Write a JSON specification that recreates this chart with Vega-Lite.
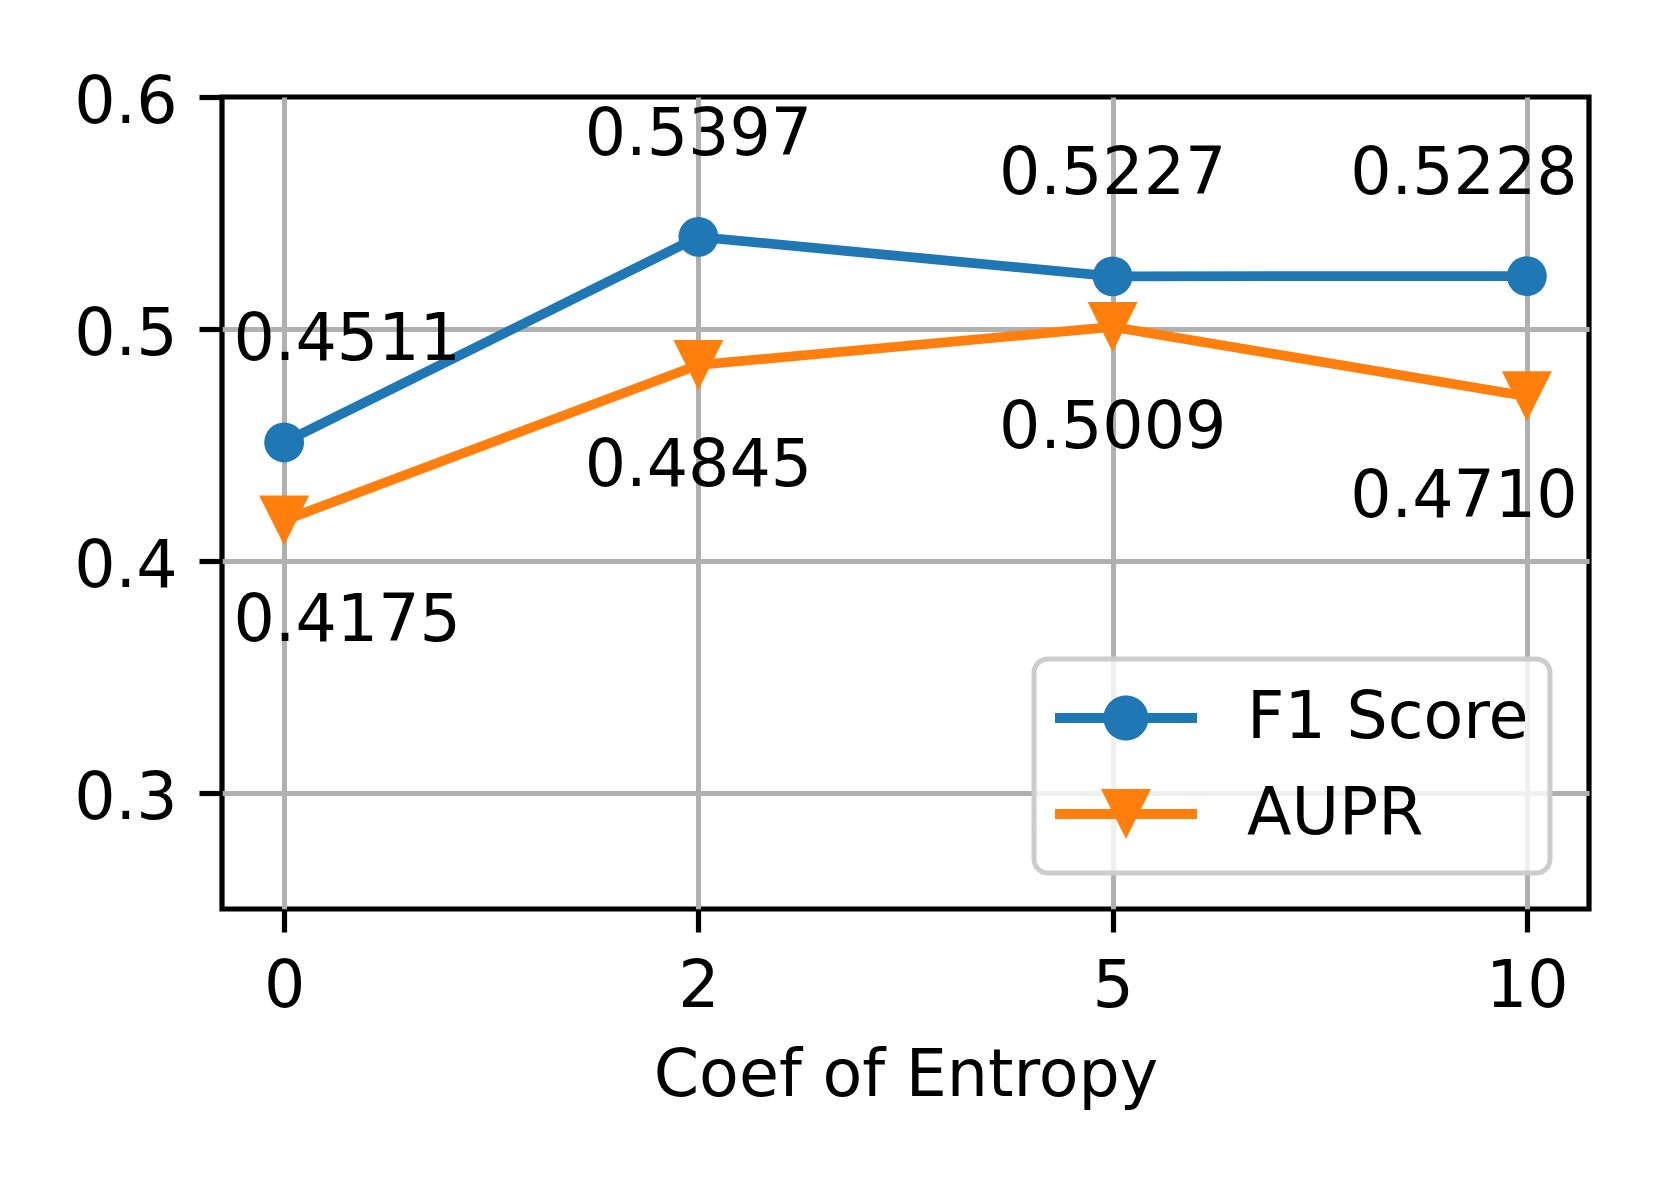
{
  "$schema": "https://vega.github.io/schema/vega-lite/v6.json",
  "width": 1367,
  "height": 812,
  "autosize": {"type": "none"},
  "padding": {"left": 222, "top": 97, "right": 72, "bottom": 277},
  "background": "white",
  "data": {
    "values": [
      {"series": "F1 Score", "x": 0, "value": 0.4511},
      {"series": "F1 Score", "x": 2, "value": 0.5397},
      {"series": "F1 Score", "x": 5, "value": 0.5227},
      {"series": "F1 Score", "x": 10, "value": 0.5228},
      {"series": "AUPR", "x": 0, "value": 0.4175},
      {"series": "AUPR", "x": 2, "value": 0.4845},
      {"series": "AUPR", "x": 5, "value": 0.5009},
      {"series": "AUPR", "x": 10, "value": 0.4710}
    ]
  },
  "encoding": {
    "x": {
      "field": "x", "type": "ordinal",
      "scale": {"type": "point", "padding": 0.15},
      "axis": {
        "title": "Coef of Entropy", "labelAngle": 0,
        "labelPadding": 23, "titlePadding": 25
      }
    },
    "y": {
      "field": "value", "type": "quantitative",
      "scale": {"domain": [0.25, 0.6], "nice": false, "zero": false},
      "axis": {
        "title": null, "values": [0.3, 0.4, 0.5, 0.6], "format": ".1f",
        "labelPadding": 22, "labelOffset": 5,
        "gridOpacity": {"condition": {"test": "datum.value > 0.59", "value": 0}, "value": 1}
      }
    }
  },
  "layer": [
    {
      "mark": {"type": "line", "strokeWidth": 9.75},
      "encoding": {
        "color": {
          "field": "series", "type": "nominal",
          "scale": {"domain": ["F1 Score", "AUPR"], "range": ["#1f77b4", "#ff7f0e"]},
          "legend": {
            "title": null,
            "orient": "none",
            "legendX": 812,
            "legendY": 562,
            "padding": 21,
            "clipHeight": 76,
            "rowPadding": 20,
            "labelOffset": 50,
            "labelFontSize": 65,
            "labelFont": "DejaVu Sans",
            "labelColor": "black",
            "labelLimit": 600,
            "symbolSize": 20164,
            "fillColor": "rgba(255,255,255,0.8)",
            "strokeColor": "#cccccc",
            "cornerRadius": 14,
            "encode": {
              "legend": {"update": {"strokeWidth": {"value": 5}}},
              "symbols": {
                "update": {
                  "shape": [
                    {"test": "datum.value === 'F1 Score'", "value": "M-1,-0.07 L1,-0.07 L1,0.07 L-1,0.07 Z M0.317,0 A0.317,0.317 0 1,1 -0.317,0 A0.317,0.317 0 1,1 0.317,0 Z"},
                    {"value": "M-1,-0.07 L1,-0.07 L1,0.07 L-1,0.07 Z M-0.352,-0.352 L0.352,-0.352 L0,0.352 Z"}
                  ],
                  "fill": [
                    {"test": "datum.value === 'F1 Score'", "value": "#1f77b4"},
                    {"value": "#ff7f0e"}
                  ],
                  "size": {"value": 20164},
                  "strokeWidth": {"value": 0},
                  "opacity": {"value": 1}
                }
              }
            }
          }
        },
        "detail": {"field": "series"}
      }
    },
    {
      "transform": [{"filter": "datum.series === 'F1 Score'"}],
      "mark": {"type": "point", "filled": true, "opacity": 1, "strokeWidth": 0, "shape": "circle", "size": 1590},
      "encoding": {
        "color": {
          "field": "series", "type": "nominal",
          "scale": {"domain": ["F1 Score", "AUPR"], "range": ["#1f77b4", "#ff7f0e"]}
        }
      }
    },
    {
      "transform": [{"filter": "datum.series === 'AUPR'"}],
      "mark": {"type": "point", "filled": true, "opacity": 1, "strokeWidth": 0, "shape": "M-1,-1 L1,-1 L0,1 Z", "size": 2500},
      "encoding": {
        "color": {
          "field": "series", "type": "nominal",
          "scale": {"domain": ["F1 Score", "AUPR"], "range": ["#1f77b4", "#ff7f0e"]}
        }
      }
    },
    {
      "mark": {
        "type": "text", "fontSize": 65, "font": "DejaVu Sans", "color": "black",
        "baseline": "alphabetic", "align": "center",
        "dx": {"expr": "datum.x == 0 ? 63 : (datum.x == 10 ? -63 : 0)"},
        "dy": {"expr": "datum.series === 'F1 Score' ? -82 : 121"}
      },
      "encoding": {
        "text": {"field": "value", "type": "quantitative", "format": ".4f"}
      }
    }
  ],
  "config": {
    "view": {"stroke": "black", "strokeWidth": 5.2},
    "axis": {
      "domain": false,
      "grid": true,
      "gridColor": "#b0b0b0",
      "gridWidth": 5,
      "tickColor": "black",
      "tickWidth": 5.2,
      "tickSize": 23,
      "labelFont": "DejaVu Sans",
      "labelFontSize": 65,
      "labelColor": "black",
      "titleFont": "DejaVu Sans",
      "titleFontSize": 65,
      "titleFontWeight": "normal",
      "titleColor": "black"
    }
  }
}
